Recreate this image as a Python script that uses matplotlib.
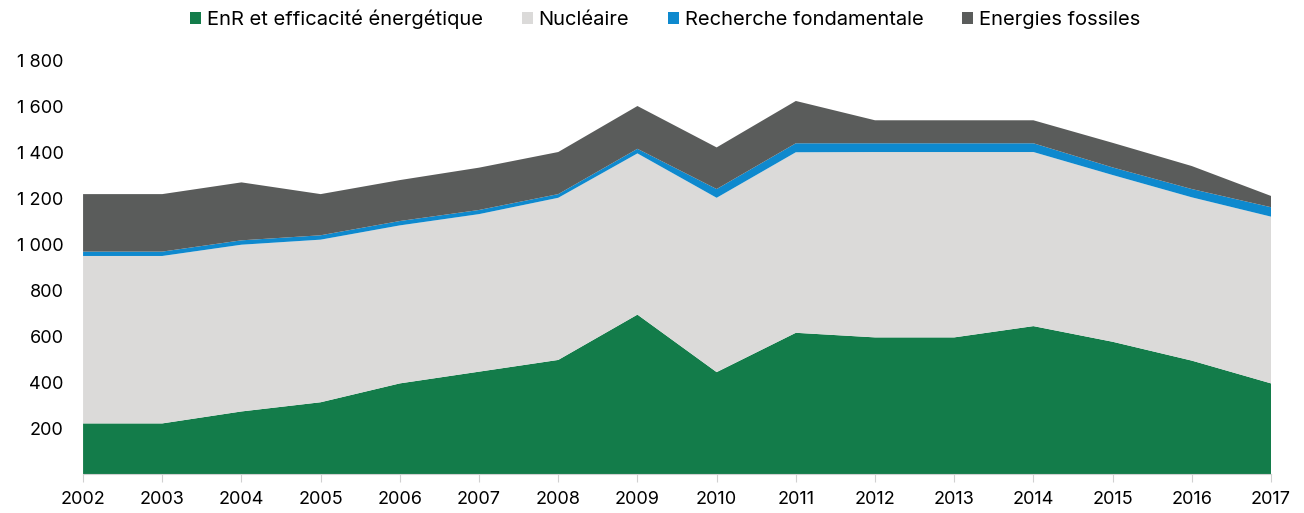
import matplotlib.pyplot as plt
import numpy as np

plt.rcParams['font.family'] = ['Inter', 'DejaVu Sans']

years = list(range(2002, 2018))
enr = [220, 220, 272, 312, 394, 445, 496, 693, 443, 614, 594, 594, 643, 575, 493, 394]
nucleaire = [728, 728, 725, 707, 687, 685, 705, 701, 758, 785, 806, 806, 757, 725, 710, 725]
recherche = [19, 19, 19, 19, 19, 18, 16, 20, 38, 39, 38, 38, 38, 33, 36, 41]
fossiles = [250, 250, 252, 179, 178, 184, 183, 186, 181, 184, 100, 100, 100, 107, 100, 49]

labels = ['EnR et efficacité énergétique', 'Nucléaire', 'Recherche fondamentale', 'Energies fossiles']
colors = ['#137c4a', '#dbdad9', '#0e89ce', '#5a5c5b']

fig = plt.figure(figsize=(13.04, 5.13), dpi=100)
ax = fig.add_axes([0.0637, 0.076, 0.911, 0.807])

ax.stackplot(years, enr, nucleaire, recherche, fossiles, labels=labels, colors=colors, linewidth=0)

ax.set_xlim(2002, 2017)
ax.set_ylim(0, 1800)
ax.set_xticks(years)
ax.set_xticklabels([str(y) for y in years], fontsize=13)
yt = list(range(200, 2000, 200))
ax.set_yticks(yt)
ax.set_yticklabels([f"{v:,}".replace(",", " ") for v in yt], fontsize=13)

for s in ['top', 'right', 'left']:
    ax.spines[s].set_visible(False)
ax.spines['bottom'].set_color('#d0d0d0')
ax.tick_params(axis='y', length=0, pad=14)
ax.tick_params(axis='x', length=6, color='#d0d0d0', pad=6)

ax.legend(loc='upper center', bbox_to_anchor=(0.49, 1.165), ncol=4, frameon=False,
          fontsize=14.5, handlelength=0.55, handleheight=0.55, handletextpad=0.3, columnspacing=1.9)

fig.savefig('out.png', dpi=100)
